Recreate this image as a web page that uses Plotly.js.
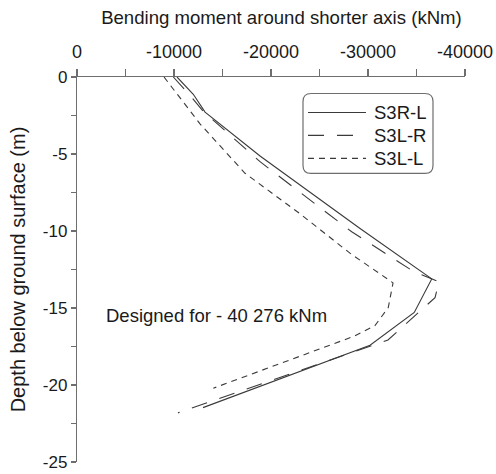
<!DOCTYPE html>
<html>
<head>
<meta charset="utf-8">
<script src="https://cdn.plot.ly/plotly-3.0.1.min.js"></script>
<style>html,body{margin:0;padding:0;background:#fff;}#chart{width:496px;height:474px;}</style>
</head>
<body>
<div id="chart"></div>
<script>
// Series: bending moment (kNm) vs depth (m)
const seriesNames = ["S3R-L", "S3L-R", "S3L-L"];

const s3rl_moment = [-10310, -11990, -13200, -18870, -29180, -36570, -34770, -30210, -12990];
const s3rl_depth  = [0, -1.12, -2.28, -5.13, -9.84, -13.11, -15.29, -17.42, -21.47];

const s3lr_moment = [-9930, -11650, -12990, -15260, -18870, -28320, -34670, -37320, -36910, -32060, -10410];
const s3lr_depth  = [0, -1.19, -2.21, -3.49, -5.50, -10.05, -12.62, -13.30, -14.33, -17.08, -21.81];

const s3ll_moment = [-8970, -12680, -17320, -22990, -28140, -32580, -32090, -30720, -28490, -14050];
const s3ll_depth  = [0, -3.04, -6.25, -8.88, -11.44, -13.37, -14.97, -16.14, -16.85, -20.21];

const xTickVals = [0, -5000, -10000, -15000, -20000, -25000, -30000, -35000, -40000];
const xTickText = ["0", "", "-10000", "", "-20000", "", "-30000", "", "-40000"];
const yTickVals = [0, -2.5, -5, -7.5, -10, -12.5, -15, -17.5, -20, -22.5, -25];
const yTickText = ["0", "", "-5", "", "-10", "", "-15", "", "-20", "", "-25"];

const xTitle = "Bending moment around shorter axis (kNm)";
const yTitle = "Depth below ground surface (m)";
const noteText = "Designed for - 40 276 kNm";

const FONT = "Liberation Sans, Arial, Helvetica, sans-serif";
const textColor = "#1a1a1a";
const lineColor = "#3a3a3a";
const axisColor = "#6e6e6e";
const dashes = ["solid", "16px,13px", "6px,5px"];

const traces = [
  {x: s3rl_moment, y: s3rl_depth, name: seriesNames[0], mode: "lines",
   line: {color: lineColor, width: 1.1, dash: dashes[0]}},
  {x: s3lr_moment, y: s3lr_depth, name: seriesNames[1], mode: "lines",
   line: {color: lineColor, width: 1.1, dash: dashes[1]}},
  {x: s3ll_moment, y: s3ll_depth, name: seriesNames[2], mode: "lines",
   line: {color: lineColor, width: 1.1, dash: dashes[2]}}
];

// plot area in pixels: left 77, right 465, top 76.5, bottom 462
const PW = 388, PH = 385.5, PL = 77, PT = 76.5;
const px2x = p => (p - PL) / PW;
const py2y = p => 1 - (p - PT) / PH;

const rx = 8/PW, ry = 8/PH;
const L = px2x(303), R = px2x(433), T = py2y(93), B = py2y(173);
const boxPath = `M ${L+rx},${T} L ${R-rx},${T} Q ${R},${T} ${R},${T-ry} L ${R},${B+ry} Q ${R},${B} ${R-rx},${B} L ${L+rx},${B} Q ${L},${B} ${L},${B+ry} L ${L},${T-ry} Q ${L},${T} ${L+rx},${T} Z`;

const shapes = [
  {type: "path", xref: "paper", yref: "paper", path: boxPath,
   line: {color: axisColor, width: 1.2}, fillcolor: "rgba(0,0,0,0)"}
];
const annotations = [
  {text: noteText, xref: "paper", yref: "paper", x: px2x(104), y: py2y(315),
   xanchor: "left", yanchor: "middle", showarrow: false,
   font: {family: FONT, size: 18.5, color: textColor}}
];
const legendRows = [112, 135, 158];
seriesNames.forEach((nm, i) => {
  shapes.push({type: "line", xref: "paper", yref: "paper",
    x0: px2x(308), x1: px2x(366), y0: py2y(legendRows[i]), y1: py2y(legendRows[i]),
    line: {color: lineColor, width: 1.1, dash: dashes[i]}});
  annotations.push({text: nm, xref: "paper", yref: "paper", x: px2x(372), y: py2y(legendRows[i]),
    xanchor: "left", yanchor: "middle", showarrow: false,
    font: {family: FONT, size: 18.5, color: textColor}});
});

const layout = {
  width: 496, height: 474,
  margin: {l: 77, r: 31, t: 76.5, b: 12, pad: 0},
  paper_bgcolor: "#fff", plot_bgcolor: "#fff",
  font: {family: FONT, size: 18, color: textColor},
  showlegend: false,
  title: {text: xTitle, font: {family: FONT, size: 18.6, color: textColor},
          x: 0.527, xref: "paper", xanchor: "center", y: 0.964, yref: "container", yanchor: "middle"},
  xaxis: {
    side: "top", range: [0, -40000], autorange: false,
    tickmode: "array", tickvals: xTickVals, ticktext: xTickText,
    ticks: "outside", ticklen: 7, tickwidth: 1.2, tickcolor: axisColor,
    showline: true, linecolor: axisColor, linewidth: 1.2,
    showgrid: false, zeroline: false, ticklabeloverflow: "allow", ticklabelstandoff: 4,
    tickfont: {family: FONT, size: 18, color: textColor}
  },
  yaxis: {
    range: [-25, 0], autorange: false,
    tickmode: "array", tickvals: yTickVals, ticktext: yTickText,
    ticks: "outside", ticklen: 5, tickwidth: 1.2, tickcolor: axisColor,
    showline: true, linecolor: axisColor, linewidth: 1.2,
    showgrid: false, zeroline: false, ticklabeloverflow: "allow",
    tickfont: {family: FONT, size: 17, color: textColor},
    title: {text: yTitle, font: {family: FONT, size: 20, color: textColor}, standoff: 11}
  },
  shapes: shapes,
  annotations: annotations
};

Plotly.newPlot("chart", traces, layout, {displayModeBar: false, staticPlot: true});
</script>
</body>
</html>
